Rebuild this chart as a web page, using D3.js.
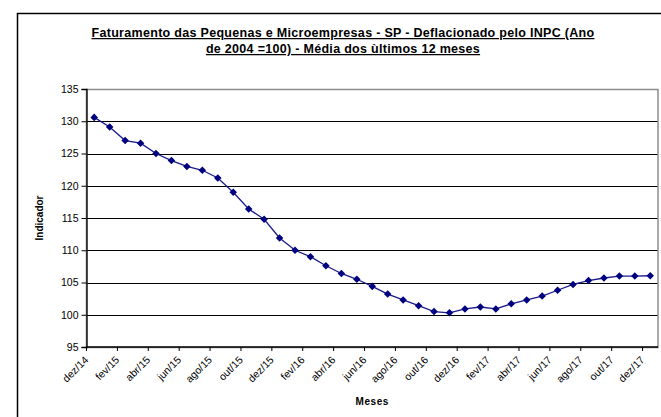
<!DOCTYPE html>
<html>
<head>
<meta charset="utf-8">
<script src="https://cdn.jsdelivr.net/npm/d3@7"></script>
<style>
  body { margin: 0; background: #fff; }
  text { font-family: "Liberation Sans", Arial, sans-serif; }
</style>
</head>
<body>
<div class="chart"></div>
<script>
const width = 661,
      height = 417;

// months dez/14 .. dez/17
const meses = ["dez/14","jan/15","fev/15","mar/15","abr/15","mai/15","jun/15","jul/15","ago/15","set/15","out/15","nov/15",
               "dez/15","jan/16","fev/16","mar/16","abr/16","mai/16","jun/16","jul/16","ago/16","set/16","out/16","nov/16",
               "dez/16","jan/17","fev/17","mar/17","abr/17","mai/17","jun/17","jul/17","ago/17","set/17","out/17","nov/17","dez/17"];
const indicador = [130.6,129.1,127.0,126.6,125.0,123.9,123.0,122.4,121.2,119.0,116.4,114.8,
                   111.9,110.0,109.0,107.6,106.4,105.5,104.4,103.2,102.3,101.4,100.5,100.3,
                   100.9,101.2,100.9,101.7,102.3,102.9,103.8,104.7,105.3,105.7,106.0,106.0,106.05];
const yTicks = [95,100,105,110,115,120,125,130,135];
const titleLines = ["Faturamento das Pequenas e Microempresas - SP - Deflacionado pelo INPC (Ano",
                    "de 2004 =100) - Média dos ùltimos 12 meses"];

const margin = {left: 86.5, right: 3, top: 89, bottom: 70};

const svg = d3.select(".chart")
              .append("svg")
              .attr("width", width)
              .attr("height", height);

// outer chart frame (runs off the right and bottom edge)
svg.append("rect")
   .attr("x", 17.5).attr("y", 13.5)
   .attr("width", 700).attr("height", 500)
   .attr("fill", "none").attr("stroke", "#000").attr("stroke-width", 1.5);

const x = d3.scaleBand()
            .domain(meses)
            .range([margin.left, width - margin.right]);

const y = d3.scaleLinear()
            .domain([95, 135])
            .range([height - margin.bottom, margin.top]);

// title
var title = svg.append("g").classed("title", true);
titleLines.forEach(function(t, i){
    title.append("text")
         .attr("x", 343).attr("y", 37 + i * 16)
         .attr("text-anchor", "middle")
         .attr("font-size", 12.5).attr("font-weight", "bold")
         .attr("letter-spacing", 0.3)
         .attr("text-decoration", "underline")
         .text(t);
});

// gridlines
svg.append("g").classed("grid", true)
   .selectAll("line").data(yTicks.filter(d => d > 95 && d < 135)).enter().append("line")
   .attr("x1", margin.left).attr("x2", width - margin.right)
   .attr("y1", d => Math.round(y(d)) + 0.5).attr("y2", d => Math.round(y(d)) + 0.5)
   .attr("stroke", "#000").attr("stroke-width", 1);

// plot area border (gray)
svg.append("rect")
   .attr("x", margin.left).attr("y", Math.round(y(135)) + 0.5)
   .attr("width", width - margin.right - margin.left)
   .attr("height", Math.round(y(95)) - Math.round(y(135)))
   .attr("fill", "none").attr("stroke", "#8c8c8c").attr("stroke-width", 1.5);

// y axis
const yAxis = svg.append("g")
   .attr("transform", "translate(" + margin.left + ",0)")
   .call(d3.axisLeft(y).tickValues(yTicks).tickSize(5).tickPadding(3));
yAxis.select(".domain").attr("stroke", "#000").attr("stroke-width", 1.3);
yAxis.selectAll("text").attr("font-size", 10.5).attr("fill", "#000")
     .attr("font-family", "Liberation Sans, Arial, sans-serif");

// x axis: ticks on category boundaries, labels every other month
const xAxis = svg.append("g")
   .attr("transform", "translate(0," + y(95) + ")");
xAxis.append("line")
   .attr("x1", margin.left).attr("x2", width - margin.right)
   .attr("y1", 0).attr("y2", 0)
   .attr("stroke", "#000").attr("stroke-width", 1.5);
var lab = xAxis.selectAll("g.tick").data(meses.filter((d, i) => i % 2 == 0)).enter()
   .append("g").classed("tick", true)
   .attr("transform", d => "translate(" + x(d) + ",0)");
lab.append("line").attr("y1", 0).attr("y2", 4).attr("stroke", "#000");
lab.append("text")
   .attr("text-anchor", "end")
   .attr("font-size", 10.5)
   .attr("transform", "translate(0,11) rotate(-45)")
   .attr("dy", "0.35em")
   .text(d => d);

// axis titles
svg.append("text")
   .attr("transform", "translate(43," + (y(115)) + ") rotate(-90)")
   .attr("text-anchor", "middle")
   .attr("font-size", 10).attr("font-weight", "bold")
   .text("Indicador");
svg.append("text")
   .attr("x", (margin.left + width - margin.right) / 2).attr("y", 405)
   .attr("text-anchor", "middle")
   .attr("font-size", 10).attr("font-weight", "bold")
   .attr("letter-spacing", 0.6)
   .text("Meses");

// series
const cx = d => x(d) + x.bandwidth() / 2;
const line = d3.line()
               .x((d, i) => cx(meses[i]))
               .y(d => y(d));

svg.append("path")
   .datum(indicador)
   .attr("d", line)
   .attr("fill", "none")
   .attr("stroke", "#1a1a8c")
   .attr("stroke-width", 1.3);

const diamond = d3.symbol().type(d3.symbolDiamond2).size(36);
svg.append("g").classed("points", true)
   .selectAll("path").data(indicador).enter().append("path")
   .attr("d", diamond)
   .attr("transform", (d, i) => "translate(" + cx(meses[i]) + "," + y(d) + ")")
   .attr("fill", "#000080");
</script>
</body>
</html>
